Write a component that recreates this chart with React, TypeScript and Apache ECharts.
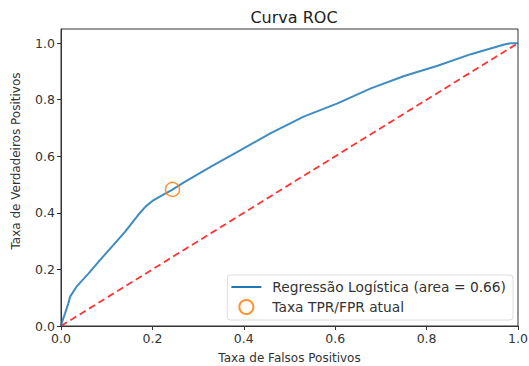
import React, { useEffect, useRef } from "react";
import * as echarts from "echarts";

const fpr = [0, 0.0015, 0.009, 0.016, 0.02, 0.034, 0.06, 0.082, 0.111, 0.14, 0.17, 0.185, 0.2, 0.221, 0.243, 0.268, 0.33, 0.393, 0.458, 0.531, 0.605, 0.678, 0.751, 0.824, 0.897, 0.97, 0.985, 1.0];
const tpr = [0, 0.01, 0.045, 0.08, 0.104, 0.139, 0.185, 0.227, 0.28, 0.333, 0.395, 0.422, 0.442, 0.462, 0.481, 0.507, 0.565, 0.622, 0.681, 0.74, 0.787, 0.84, 0.884, 0.92, 0.961, 0.995, 1.0, 1.0];
const diagX = [0, 1];
const diagY = [0, 1];
const currentPoint = [0.244, 0.483];
const tickValues = [0, 0.2, 0.4, 0.6, 0.8, 1.0];
const rocName = "Regressão Logística (area = 0.66)";
const pointName = "Taxa TPR/FPR atual";
const chartTitle = "Curva ROC";
const xTitle = "Taxa de Falsos Positivos";
const yTitle = "Taxa de Verdadeiros Positivos";

const FONT = "DejaVu Sans";

export default function App() {
  const ref = useRef<HTMLDivElement>(null);
  useEffect(() => {
    document.body.style.margin = "0";
    const chart = echarts.init(ref.current!, undefined, { renderer: "svg" });
    const axisCommon = {
      axisLine: { show: true, lineStyle: { color: "#333", width: 1 } },
      axisTick: { show: true, inside: false, length: 4, lineStyle: { color: "#333" }, customValues: tickValues },
      axisLabel: {
        color: "#333",
        fontSize: 12.5,
        fontFamily: FONT,
        margin: 6,
        formatter: (v: number) => v.toFixed(1),
        customValues: tickValues,
      },
      splitLine: { show: false },
      nameLocation: "middle" as const,
      nameTextStyle: { color: "#333", fontSize: 12, fontFamily: FONT },
    };
    chart.setOption({
      animation: false,
      backgroundColor: "#fff",
      title: {
        text: chartTitle,
        left: 289,
        top: 4,
        textAlign: "center",
        textStyle: { color: "#222", fontSize: 16, fontWeight: "normal", fontFamily: FONT },
      },
      grid: {
        left: 61,
        right: 11,
        top: 29,
        bottom: 40,
        show: true,
        borderColor: "#333",
        borderWidth: 1,
        backgroundColor: "transparent",
        containLabel: false,
        outerBoundsMode: "none",
      },
      xAxis: {
        type: "value",
        min: 0,
        max: 1,
        interval: 0.2,
        name: xTitle,
        nameGap: 26,
        ...axisCommon,
      },
      yAxis: {
        type: "value",
        min: 0,
        max: 1.05,
        interval: 0.2,
        ...axisCommon,
      },
      graphic: [
        {
          type: "text",
          x: 16,
          y: 161,
          rotation: Math.PI / 2,
          style: {
            text: yTitle,
            fill: "#333",
            fontSize: 12,
            fontFamily: FONT,
            align: "center",
            verticalAlign: "middle",
          },
        },
      ],
      legend: {
        orient: "vertical",
        right: 16,
        bottom: 46,
        align: "left",
        backgroundColor: "rgba(255,255,255,0.8)",
        borderColor: "#ddd",
        borderWidth: 1,
        borderRadius: 3,
        padding: [5, 7, 5, 4],
        itemGap: 5,
        itemWidth: 30,
        itemHeight: 14,
        textStyle: { color: "#333", fontSize: 13.8, fontFamily: FONT, padding: [0, 0, 0, 6] },
        data: [
          { name: rocName, icon: "path://M0,0L30,0L30,2L0,2Z" },
          { name: pointName },
        ],
      },
      series: [
        {
          name: "diag",
          type: "line",
          data: diagX.map((x, i) => [x, diagY[i]]),
          symbol: "none",
          lineStyle: { color: "#ff0000", width: 1.8, type: [7, 4], opacity: 0.8 },
          z: 2,
        },
        {
          name: rocName,
          type: "line",
          data: fpr.map((x, i) => [x, tpr[i]]),
          symbol: "none",
          color: "#1f77b4",
          itemStyle: { color: "#1f77b4" },
          lineStyle: { color: "#1f77b4", width: 2, opacity: 0.85 },
          z: 3,
        },
        {
          name: pointName,
          type: "scatter",
          data: [currentPoint],
          symbol: "circle",
          symbolSize: 14,
          itemStyle: { color: "rgba(0,0,0,0)", borderColor: "#ff7f0e", borderWidth: 1.5, opacity: 0.85 },
          z: 4,
        },
      ],
    });
    return () => chart.dispose();
  }, []);
  return <div ref={ref} style={{ width: 529, height: 366 }} />;
}
